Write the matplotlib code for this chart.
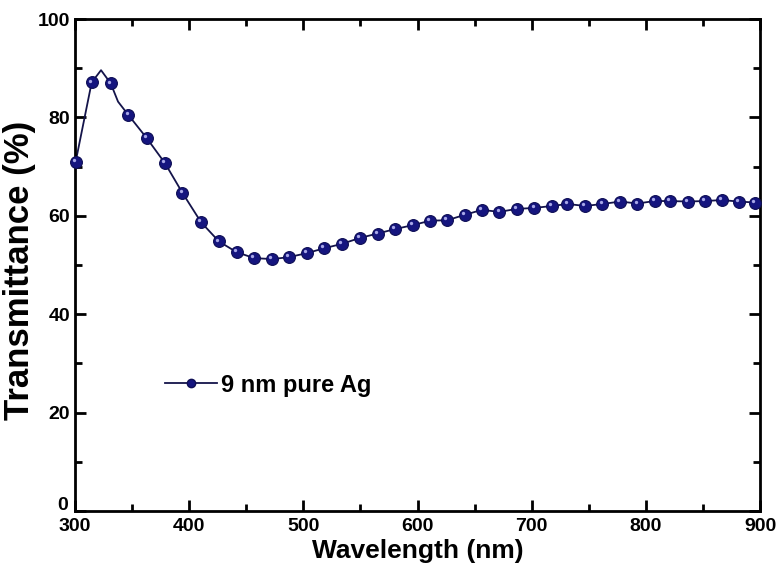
import matplotlib
matplotlib.use("Agg")
import matplotlib.pyplot as plt
import matplotlib.transforms as mtransforms
from matplotlib.ticker import MultipleLocator, FuncFormatter

plt.rcParams['font.family'] = ['Liberation Sans', 'DejaVu Sans']
plt.rcParams['font.weight'] = 'bold'

# marker positions
wavelength = [300.6, 314.6, 331.3, 346.7, 362.8, 378.8, 394.0, 410.4, 426.0, 441.6,
              457.0, 472.8, 487.4, 502.9, 518.3, 533.8, 549.6, 565.1, 580.3, 595.8,
              611.0, 626.1, 641.4, 656.3, 671.7, 686.9, 702.4, 717.9, 731.3, 746.8,
              762.0, 777.5, 792.7, 807.6, 821.3, 836.5, 851.7, 866.6, 881.2, 895.6]
transmittance = [71.0, 87.1, 86.9, 80.5, 75.8, 70.7, 64.7, 58.7, 54.8, 52.6,
                 51.4, 51.2, 51.6, 52.4, 53.4, 54.3, 55.5, 56.4, 57.3, 58.1,
                 59.0, 59.1, 60.2, 61.2, 60.8, 61.4, 61.6, 62.0, 62.4, 62.0,
                 62.4, 62.9, 62.5, 63.0, 63.0, 62.9, 63.0, 63.2, 62.9, 62.7]

# extra vertices of the line between markers (peak, shoulder, end)
extra_w = [322.8, 337.7, 900.0]
extra_T = [89.6, 83.2, 62.6]

line = sorted(zip(wavelength + extra_w, transmittance + extra_T))
line_w = [p[0] for p in line]
line_T = [p[1] for p in line]

fig = plt.figure(figsize=(7.77, 5.73), dpi=100)
ax = fig.add_axes([75 / 777, 1 - 511 / 573, 685 / 777, 492 / 573])

ax.plot(line_w, line_T, color='#14144a', lw=1.3, zorder=2)
ax.plot(wavelength, transmittance, ls='none', marker='o', ms=8.5,
        mfc='#15157f', mec='#0e0e55', mew=0.8, zorder=3, clip_on=False)
# small highlight to give the spheres some shine
shine = mtransforms.offset_copy(ax.transData, fig=fig, x=-1.3, y=1.3, units='points')
ax.plot(wavelength, transmittance, ls='none', marker='o', ms=2.4,
        mfc='#a8a8e8', mec='none', zorder=4, clip_on=False, transform=shine)

# legend entry
h, = ax.plot([], [], color='#14144a', lw=1.3, marker='o', ms=6,
             mfc='#15157f', mec='#0e0e55', label='9 nm pure Ag')
ax.legend(handles=[h], loc='center left', bbox_to_anchor=(0.1, 0.256),
          frameon=False, handlelength=2.2, handletextpad=0.2,
          prop={'weight': 'bold', 'size': 17})

ax.set_xlim(300, 900)
ax.set_ylim(0, 100)
ax.xaxis.set_major_locator(MultipleLocator(100))
ax.xaxis.set_minor_locator(MultipleLocator(50))
ax.yaxis.set_major_locator(MultipleLocator(20))
ax.yaxis.set_minor_locator(MultipleLocator(10))
# the "0" on the y axis is written separately, a bit higher, so it clears "300"
ax.yaxis.set_major_formatter(FuncFormatter(lambda v, p: '' if v == 0 else f'{v:g}'))
ax.annotate('0', xy=(0, 0), xycoords='axes fraction', xytext=(-5, 4),
            textcoords='offset points', ha='right', va='center',
            fontsize=14, fontweight='bold')
ax.tick_params(which='both', direction='in', top=True, right=True, width=2)
ax.tick_params(which='major', length=8, labelsize=14)
ax.tick_params(axis='x', which='major', pad=5)
ax.tick_params(which='minor', length=5)
for s in ax.spines.values():
    s.set_linewidth(2)

ax.set_xlabel("Wavelength (nm)", fontsize=19, fontweight='bold', labelpad=3)
ax.set_ylabel("Transmittance (%)", fontsize=25, fontweight='bold')
ax.yaxis.set_label_coords(-0.057, 0.49)

plt.savefig("out.png", dpi=100)
